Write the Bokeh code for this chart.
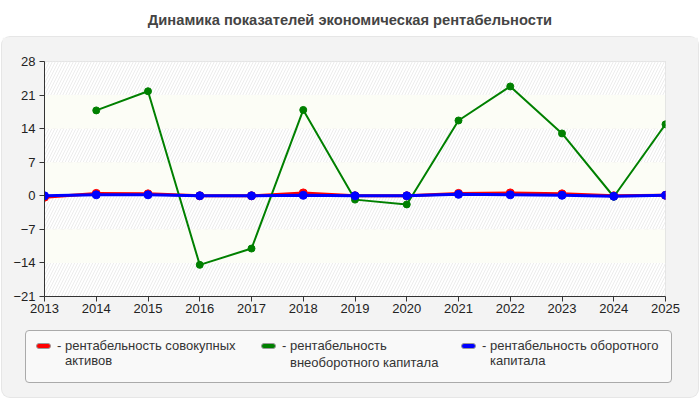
from bokeh.plotting import figure
from bokeh.models import FixedTicker, Range1d, Div
from bokeh.layouts import column
from bokeh.embed import file_html
from bokeh.resources import INLINE

# ---- data ----
title_text = "Динамика показателей экономическая рентабельности"
years = [2013, 2014, 2015, 2016, 2017, 2018, 2019, 2020, 2021, 2022, 2023, 2024, 2025]
total_assets = [-0.3, 0.5, 0.4, 0.0, 0.0, 0.6, 0.0, 0.0, 0.5, 0.6, 0.4, 0.0, 0.1]
green_years = [2014, 2015, 2016, 2017, 2018, 2019, 2020, 2021, 2022, 2023, 2024, 2025]
noncurrent_capital = [17.8, 21.8, -14.4, -11.0, 17.9, -0.8, -1.8, 15.7, 22.8, 13.0, -0.2, 14.9]
current_capital = [0.0, 0.2, 0.2, 0.0, 0.0, 0.1, 0.0, 0.0, 0.3, 0.2, 0.1, -0.1, 0.1]
y_ticks = [-21, -14, -7, 0, 7, 14, 21, 28]
legend_lines = [
    ["- рентабельность совокупных", "активов"],
    ["- рентабельность", "внеоборотного капитала"],
    ["- рентабельность оборотного", "капитала"],
]
colors = ["#ff0000", "#008000", "#0000ff"]

FONT = "Liberation Sans"
PANEL = "#f3f3f3"

p = figure(width=696, height=281, output_backend="svg", toolbar_location=None,
           x_range=Range1d(years[0], years[-1]), y_range=Range1d(y_ticks[0], y_ticks[-1]),
           min_border_left=42, min_border_right=33, min_border_top=24, min_border_bottom=22,
           border_fill_color=PANEL, background_fill_color="white",
           outline_line_color="#dddddd", margin=0)

# background bands (alternating, hatched at top)
bottoms = y_ticks[:-1]
tops = y_ticks[1:]
n = len(bottoms)
hb = [bottoms[i] for i in range(n) if (n - 1 - i) % 2 == 0]
ht = [tops[i] for i in range(n) if (n - 1 - i) % 2 == 0]
cb = [bottoms[i] for i in range(n) if (n - 1 - i) % 2 == 1]
ct = [tops[i] for i in range(n) if (n - 1 - i) % 2 == 1]
p.quad(left=years[0], right=years[-1], bottom=hb, top=ht, fill_color="white",
       hatch_pattern="/", hatch_color="#ececec", hatch_scale=6, hatch_weight=1, line_color=None)
p.quad(left=years[0], right=years[-1], bottom=cb, top=ct, fill_color="#fcfdf6", line_color=None)

p.xaxis.ticker = FixedTicker(ticks=years)
p.yaxis.ticker = FixedTicker(ticks=y_ticks)
for ax in (p.xaxis[0], p.yaxis[0]):
    ax.axis_line_color = "#333333"
    ax.major_tick_line_color = "#333333"
    ax.major_tick_out = 5
    ax.major_tick_in = 0
    ax.minor_tick_line_color = None
    ax.major_label_text_font = FONT
    ax.major_label_text_font_size = "13px"
    ax.major_label_text_color = "#222222"
p.xaxis.major_label_standoff = 2
p.yaxis.major_label_standoff = 4
p.grid.grid_line_color = "#dddddd"
p.grid.grid_line_dash = "4 4"

p.line(years, total_assets, line_color=colors[0], line_width=3)
p.scatter(years, total_assets, color=colors[0], size=8)
p.line(green_years, noncurrent_capital, line_color=colors[1], line_width=2)
p.scatter(green_years, noncurrent_capital, color=colors[1], size=7)
p.line(years, current_capital, line_color=colors[2], line_width=3)
p.scatter(years, current_capital, color=colors[2], size=8)

# ---- legend as HTML (page coords offset: panel starts at x=2, legend div at y=318) ----
OX, OY = 2, 318
sw_x = [36, 261, 461]
line_h = [15, 17, 15]
items = []
for i in range(3):
    items.append(
        f'<div style="position:absolute;left:{sw_x[i]-OX}px;top:{343-OY}px;width:15px;height:6px;'
        f'background:{colors[i]};border:1px solid #999;border-radius:3px;box-sizing:border-box;"></div>'
        f'<div style="position:absolute;left:{sw_x[i]+21-OX}px;top:{345-line_h[i]//2-OY}px;'
        f'line-height:{line_h[i]}px;white-space:nowrap;padding-left:8px;text-indent:-8px;">'
        f'{legend_lines[i][0]}<br>{legend_lines[i][1]}</div>'
    )
legend_html = (
    f'<div style="position:relative;width:696px;height:79px;font-family:\'{FONT}\';'
    f'font-size:13px;color:#333333;">'
    f'<div style="position:absolute;left:{25-OX}px;top:{330-OY}px;width:647px;height:53px;'
    f'background:#f9f9f9;border:1px solid #aaaaaa;border-radius:4px;box-sizing:border-box;"></div>'
    + "".join(items) + '</div>'
)
legend = Div(text=legend_html, width=696, height=79, margin=0)

panel = column(p, legend, spacing=0, margin=(0, 0, 0, 2),
               styles={"background": PANEL, "border-radius": "8px",
                       "box-shadow": "0 0 0 1px #e6e6e6"})

title = Div(text=title_text, width=700, height=37, margin=0,
            styles={"font-family": FONT, "font-weight": "bold", "font-size": "14.7px",
                    "color": "#444444", "text-align": "center", "width": "700px",
                    "line-height": "40px"})

root = column(title, panel, spacing=0, margin=0, styles={"background": "white"})
open("out.html", "w").write(file_html(root, INLINE))
